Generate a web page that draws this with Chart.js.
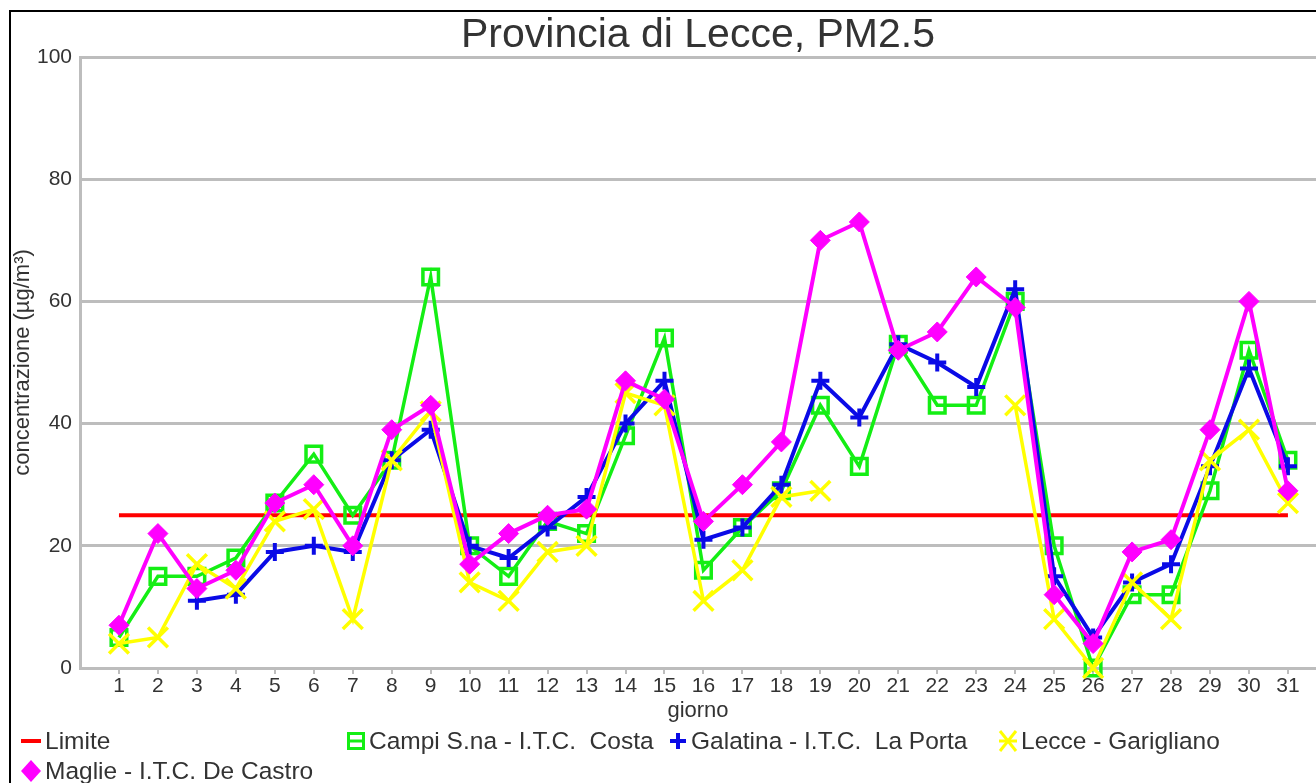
<!DOCTYPE html>
<html>
<head>
<meta charset="utf-8">
<script src="https://cdn.jsdelivr.net/npm/chart.js@4.4.1/dist/chart.umd.min.js"></script>
<style>
  body { margin: 0; background: #fff; }
  #wrap { position: relative; width: 1316px; height: 783px; overflow: hidden; font-family: "Liberation Sans", Arial, sans-serif; }
  #frame { position: absolute; left: 9px; top: 10px; width: 1400px; height: 900px; border-left: 2px solid #000; border-top: 2px solid #000; }
  #chart { position: absolute; left: 0; top: 0; }
  #title { position: absolute; left: 80px; width: 1236px; top: 8px; height: 50px; line-height: 50px; text-align: center; font-size: 41px; color: #333; }
  .leg { position: absolute; display: flex; align-items: center; font-size: 24.5px; color: #333; white-space: pre; height: 26px; }
  .leg svg { margin-right: 3px; }
</style>
</head>
<body>
<div id="wrap">
  <div id="frame"></div>
  <canvas id="chart" width="1316" height="783"></canvas>
  <div id="title">Provincia di Lecce, PM2.5</div>
  <div id="legend"></div>
</div>
<script>
// giorni del mese
const days = [1, 2, 3, 4, 5, 6, 7, 8, 9, 10, 11, 12, 13, 14, 15, 16, 17, 18, 19, 20, 21, 22, 23, 24, 25, 26, 27, 28, 29, 30, 31];

// valori PM2.5 (µg/m³)
const limite = [25, 25, 25, 25, 25, 25, 25, 25, 25, 25, 25, 25, 25, 25, 25, 25, 25, 25, 25, 25, 25, 25, 25, 25, 25, 25, 25, 25, 25, 25, 25];
const campi = [5, 15, 15, 18, 27, 35, 25, 34, 64, 20, 15, 24, 22, 38, 54, 16, 23, 29, 43, 33, 53, 43, 43, 60, 20, 0, 12, 12, 29, 52, 34];
const galatina = [null, null, 11, 12, 19, 20, 19, 34, 39, 20, 18, 23, 28, 40, 47, 21, 23, 30, 47, 41, 53, 50, 46, 62, 15, 5, 14, 17, 33, 49, 33];
const lecce = [4, 5, 17, 13, 24, 26, 8, 34, 42, 14, 11, 19, 20, 45, 43, 11, 16, 28, 29, null, null, null, null, 43, 8, 0, 14, 8, 34, 39, 27];
const maglie = [7, 22, 13, 16, 27, 30, 20, 39, 43, 17, 22, 25, 26, 47, 44, 24, 30, 37, 70, 73, 52, 55, 64, 59, 12, 4, 19, 21, 39, 60, 29];

const yTicks = [0, 20, 40, 60, 80, 100];

const toPoints = (values) => days.map((d, i) => ({ x: d, y: values[i] }));

const datasets = [
  {
    label: "Limite",
    data: toPoints(limite),
    borderColor: "#ff0000",
    borderWidth: 4,
    pointRadius: 0,
    order: 5,
    symbol: "line",
  },
  {
    label: "Campi S.na - I.T.C.  Costa",
    data: toPoints(campi),
    borderColor: "#14ee14",
    backgroundColor: "rgba(0,0,0,0)",
    borderWidth: 3.5,
    pointStyle: "rect",
    pointRadius: 11,
    pointBorderWidth: 3.5,
    order: 4,
    symbol: "rect",
  },
  {
    label: "Galatina - I.T.C.  La Porta",
    data: toPoints(galatina),
    borderColor: "#0a0ae6",
    backgroundColor: "#0a0ae6",
    borderWidth: 4,
    pointStyle: "cross",
    pointRadius: 9,
    pointBorderWidth: 4,
    order: 3,
    symbol: "cross",
  },
  {
    label: "Lecce - Garigliano",
    data: toPoints(lecce),
    borderColor: "#ffff00",
    backgroundColor: "#ffff00",
    borderWidth: 3.5,
    pointStyle: "crossRot",
    pointRadius: 14,
    pointBorderWidth: 3.5,
    order: 2,
    symbol: "crossRot",
  },
  {
    label: "Maglie - I.T.C. De Castro",
    data: toPoints(maglie),
    borderColor: "#ff00ff",
    backgroundColor: "#ff00ff",
    borderWidth: 4,
    pointStyle: "rectRot",
    pointRadius: 10,
    pointBorderWidth: 1,
    order: 1,
    symbol: "rectRot",
  },
];

const textColor = "#333";
const gridColor = "#bdbdbd";

const chart = new Chart(document.getElementById("chart"), {
  type: "line",
  data: { datasets: datasets.map((ds) => ({ ...ds, clip: false, spanGaps: false, tension: 0 })) },
  options: {
    responsive: false,
    animation: false,
    devicePixelRatio: 1,
    font: { family: '"Liberation Sans", Arial, sans-serif' },
    layout: { autoPadding: false, padding: { left: 10, top: 57, right: 0, bottom: 55 } },
    plugins: {
      legend: { display: false },
      tooltip: { enabled: false },
      title: { display: false },
    },
    scales: {
      x: {
        type: "linear",
        min: 0,
        max: 31.72,
        afterBuildTicks: (axis) => {
          axis.ticks = days.map((d) => ({ value: d }));
        },
        afterFit: (scale) => {
          scale.height = 60;
          scale.paddingRight = 0;
          scale.paddingLeft = 0;
        },
        grid: { drawOnChartArea: false, drawTicks: true, tickLength: 6, color: gridColor, lineWidth: 2 },
        border: { color: gridColor, width: 3 },
        ticks: { color: textColor, font: { size: 21 }, padding: 0, maxRotation: 0, autoSkip: false },
        title: {
          display: true,
          text: "giorno",
          color: textColor,
          font: { size: 22 },
          padding: { top: 0, bottom: 4 },
        },
      },
      y: {
        min: 0,
        max: 100,
        afterBuildTicks: (axis) => {
          axis.ticks = yTicks.map((v) => ({ value: v }));
        },
        afterFit: (scale) => {
          scale.width = 70;
        },
        grid: { color: gridColor, lineWidth: 3, drawTicks: false },
        border: { color: gridColor, width: 3 },
        ticks: { color: textColor, font: { size: 21 }, padding: 8 },
        title: {
          display: true,
          text: "concentrazione (µg/m³)",
          color: textColor,
          font: { size: 22 },
          padding: { top: 0, bottom: 0 },
        },
      },
    },
  },
});

// Legenda HTML (posizioni come nel grafico originale)
const legendSlots = [
  { left: 20, top: 728 },
  { left: 346, top: 728 },
  { left: 668, top: 728 },
  { left: 998, top: 728 },
  { left: 20, top: 758 },
];

function symbolSvg(ds) {
  const c = ds.borderColor;
  switch (ds.symbol) {
    case "line":
      return `<svg width="22" height="20"><line x1="1" y1="10" x2="21" y2="10" stroke="${c}" stroke-width="4"/></svg>`;
    case "rect":
      return `<svg width="20" height="20"><rect x="2.5" y="2.5" width="15" height="15" fill="none" stroke="${c}" stroke-width="3"/><line x1="2" y1="10" x2="18" y2="10" stroke="${c}" stroke-width="3"/></svg>`;
    case "cross":
      return `<svg width="20" height="20"><line x1="2" y1="10" x2="18" y2="10" stroke="${c}" stroke-width="4"/><line x1="10" y1="2" x2="10" y2="18" stroke="${c}" stroke-width="4"/></svg>`;
    case "crossRot":
      return `<svg width="20" height="24"><line x1="1" y1="12" x2="19" y2="12" stroke="${c}" stroke-width="3"/><line x1="2" y1="2" x2="18" y2="22" stroke="${c}" stroke-width="3"/><line x1="18" y1="2" x2="2" y2="22" stroke="${c}" stroke-width="3"/></svg>`;
    default:
      return `<svg width="22" height="24"><polygon points="11,1 21,12 11,23 1,12" fill="${c}"/></svg>`;
  }
}

const legendEl = document.getElementById("legend");
datasets.forEach((ds, i) => {
  const item = document.createElement("div");
  item.className = "leg";
  item.style.left = legendSlots[i].left + "px";
  item.style.top = legendSlots[i].top + "px";
  item.innerHTML = symbolSvg(ds) + `<span>${ds.label}</span>`;
  legendEl.appendChild(item);
});
</script>
</body>
</html>
